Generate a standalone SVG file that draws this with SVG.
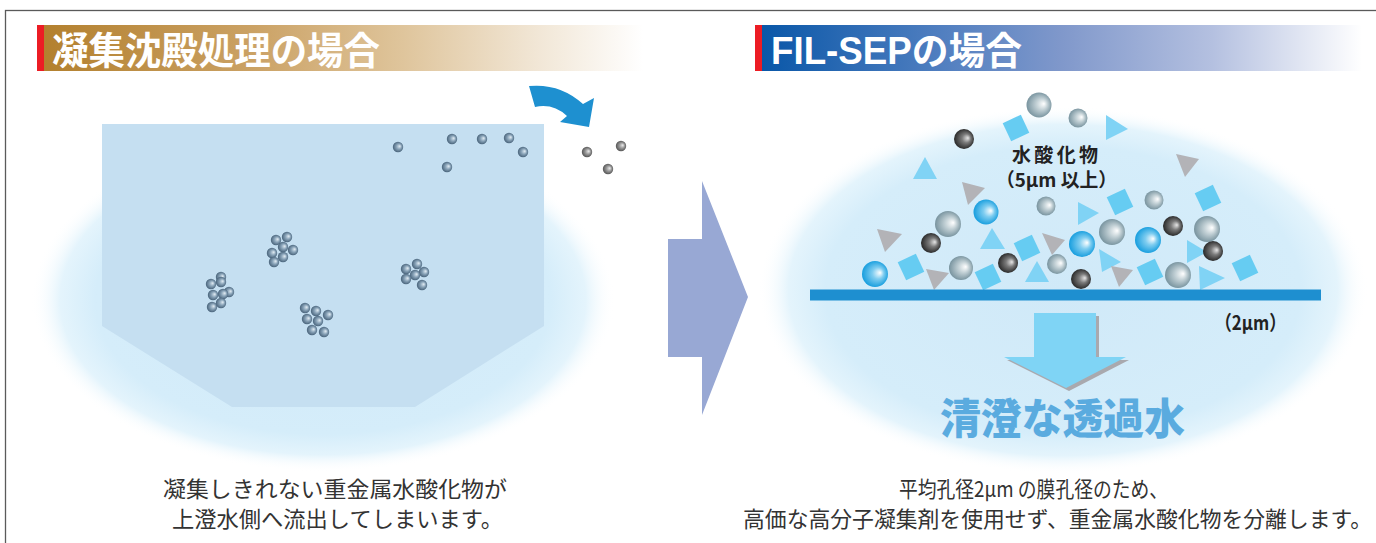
<svg xmlns="http://www.w3.org/2000/svg" width="1376" height="543" viewBox="0 0 1376 543">
  <defs>
    <style>
      .hdr { font-family: "Noto Sans CJK JP", "Liberation Sans", sans-serif; font-weight: 700; fill: #ffffff; }
      .hdr-latin { font-family: "Liberation Sans", "Noto Sans CJK JP", sans-serif; font-weight: 700; fill: #ffffff; }
      .body { font-family: "Noto Sans CJK JP", sans-serif; font-size: 22px; fill: #333333; }
      .lbl { font-family: "Noto Sans CJK JP", "Liberation Sans", sans-serif; font-weight: 700; fill: #222222; }
      .big { font-family: "Noto Sans CJK JP", sans-serif; font-weight: 900; font-size: 42px; fill: #5aabdf; }
      .sq { fill: #66ccf2; }
      .tri-b { fill: #80d3f5; }
      .tri-g { fill: #b3b3b7; }
    </style>
    <linearGradient id="gHdrL" gradientUnits="userSpaceOnUse" x1="44" y1="0" x2="643" y2="0">
      <stop offset="0" stop-color="#b3802e"/>
      <stop offset="0.35" stop-color="#cba265"/>
      <stop offset="0.6" stop-color="#dfc59c"/>
      <stop offset="0.82" stop-color="#f1e6d5"/>
      <stop offset="1" stop-color="#ffffff"/>
    </linearGradient>
    <linearGradient id="gHdrR" gradientUnits="userSpaceOnUse" x1="762" y1="0" x2="1362" y2="0">
      <stop offset="0" stop-color="#0957a8"/>
      <stop offset="0.3" stop-color="#517fc0"/>
      <stop offset="0.5" stop-color="#8098cb"/>
      <stop offset="0.75" stop-color="#b4c0e0"/>
      <stop offset="1" stop-color="#ffffff"/>
    </linearGradient>
    <radialGradient id="gGlow" cx="0.5" cy="0.5" r="0.5">
      <stop offset="0" stop-color="#d0e9f8"/>
      <stop offset="0.78" stop-color="#d5edfa"/>
      <stop offset="0.9" stop-color="#e4f4fc"/>
      <stop offset="1" stop-color="#ffffff" stop-opacity="0"/>
    </radialGradient>
    <radialGradient id="gSteel" cx="0.5" cy="0.5" r="0.55" fx="0.68" fy="0.42">
      <stop offset="0" stop-color="#e4eef5"/>
      <stop offset="0.45" stop-color="#8aa4b9"/>
      <stop offset="1" stop-color="#3f5a72"/>
    </radialGradient>
    <radialGradient id="gGrey" cx="0.5" cy="0.5" r="0.55" fx="0.68" fy="0.42">
      <stop offset="0" stop-color="#eeeeee"/>
      <stop offset="0.45" stop-color="#9a9a9a"/>
      <stop offset="1" stop-color="#4a4a4a"/>
    </radialGradient>
    <radialGradient id="gSilver" cx="0.5" cy="0.5" r="0.55" fx="0.7" fy="0.45">
      <stop offset="0" stop-color="#ffffff"/>
      <stop offset="0.4" stop-color="#c3d1d6"/>
      <stop offset="1" stop-color="#6f8c98"/>
    </radialGradient>
    <radialGradient id="gCyan" cx="0.5" cy="0.5" r="0.55" fx="0.7" fy="0.45">
      <stop offset="0" stop-color="#ffffff"/>
      <stop offset="0.4" stop-color="#7fcdf0"/>
      <stop offset="1" stop-color="#0a98dc"/>
    </radialGradient>
    <radialGradient id="gDark" cx="0.5" cy="0.5" r="0.55" fx="0.7" fy="0.45">
      <stop offset="0" stop-color="#e6e6e6"/>
      <stop offset="0.4" stop-color="#7a7a7a"/>
      <stop offset="1" stop-color="#1e1e1e"/>
    </radialGradient>
  </defs>

  <rect width="1376" height="543" fill="#ffffff"/>

  <!-- outer frame -->
  <rect id="frame" x="5.5" y="10.5" width="1390" height="560" fill="none" stroke="#5a5a5a" stroke-width="1.3"/>

  <!-- section headers -->
  <g id="header-left">
    <rect x="44" y="25" width="600" height="46" fill="url(#gHdrL)"/>
    <rect x="37" y="25" width="7" height="46" fill="#ec1c24"/>
    <text class="hdr" x="52" y="64" font-size="38" textLength="328" lengthAdjust="spacingAndGlyphs">凝集沈殿処理の場合</text>
  </g>
  <g id="header-right">
    <rect x="762" y="25" width="600" height="46" fill="url(#gHdrR)"/>
    <rect x="755" y="25" width="7" height="46" fill="#ec1c24"/>
    <text class="hdr-latin" x="771" y="64" font-size="38" textLength="251" lengthAdjust="spacingAndGlyphs">FIL-SEPの場合</text>
  </g>

  <!-- sedimentation tank -->
  <g id="tank">
    <ellipse cx="323" cy="300" rx="292" ry="172" fill="url(#gGlow)"/>
    <polygon points="102,124 544,124 544,326 415,407 232,407 102,326" fill="#c5dff1"/>
  </g>

  <!-- floc and fine particles in the tank -->
  <g id="floc" fill="url(#gSteel)">
    <circle cx="398" cy="147" r="5.2"/>
    <circle cx="452" cy="139" r="5.2"/>
    <circle cx="482" cy="139" r="5.2"/>
    <circle cx="509" cy="138" r="5.2"/>
    <circle cx="523" cy="152" r="5.2"/>
    <circle cx="447" cy="167" r="5.2"/>

    <circle cx="221" cy="277" r="5.2"/>
    <circle cx="211" cy="284" r="5.2"/>
    <circle cx="221" cy="282" r="5.2"/>
    <circle cx="229" cy="292" r="5.2"/>
    <circle cx="213" cy="295" r="5.2"/>
    <circle cx="223" cy="294" r="5.2"/>
    <circle cx="212" cy="307" r="5.2"/>
    <circle cx="221" cy="303" r="5.2"/>

    <circle cx="276" cy="240" r="5.2"/>
    <circle cx="287" cy="237" r="5.2"/>
    <circle cx="293" cy="250" r="5.2"/>
    <circle cx="283" cy="247" r="5.2"/>
    <circle cx="272" cy="253" r="5.2"/>
    <circle cx="283" cy="257" r="5.2"/>
    <circle cx="274" cy="262" r="5.2"/>

    <circle cx="305" cy="308" r="5.2"/>
    <circle cx="316" cy="311" r="5.2"/>
    <circle cx="328" cy="315" r="5.2"/>
    <circle cx="307" cy="319" r="5.2"/>
    <circle cx="318" cy="321" r="5.2"/>
    <circle cx="312" cy="330" r="5.2"/>
    <circle cx="324" cy="332" r="5.2"/>

    <circle cx="417" cy="264" r="5.2"/>
    <circle cx="406" cy="269" r="5.2"/>
    <circle cx="424" cy="272" r="5.2"/>
    <circle cx="415" cy="275" r="5.2"/>
    <circle cx="406" cy="279" r="5.2"/>
    <circle cx="422" cy="285" r="5.2"/>
  </g>

  <!-- overflow arrow and escaping particles -->
  <g id="overflow">
    <path d="M529,86 Q560,83 583,104 L594,98 L589,127 L560,122 L567,116 Q553,103 535,107 Z" fill="#1e90d0"/>
    <g fill="url(#gGrey)">
      <circle cx="587" cy="152" r="5.2"/>
      <circle cx="621" cy="146" r="5.2"/>
      <circle cx="608" cy="169" r="5.2"/>
    </g>
  </g>

  <!-- transition arrow -->
  <g id="arrow-mid">
    <polygon points="668,239 702,239 702,181 748,297 702,415 702,357 668,357" fill="#98a8d4"/>
  </g>

  <!-- membrane filtration -->
  <g id="membrane-glow">
    <ellipse cx="1063" cy="290" rx="305" ry="184" fill="url(#gGlow)"/>
  </g>

  <g id="solids">
    <g class="sq">
      <rect x="-10" y="-10" width="20" height="20" transform="translate(1016,128) rotate(-25)"/>
      <rect x="-10" y="-10" width="20" height="20" transform="translate(1120,202) rotate(-25)"/>
      <rect x="-10" y="-10" width="20" height="20" transform="translate(1208,198) rotate(-25)"/>
      <rect x="-10" y="-10" width="20" height="20" transform="translate(1027,248) rotate(-25)"/>
      <rect x="-10" y="-10" width="20" height="20" transform="translate(911,267) rotate(-25)"/>
      <rect x="-10" y="-10" width="20" height="20" transform="translate(988,277) rotate(-25)"/>
      <rect x="-10" y="-10" width="20" height="20" transform="translate(1150,272) rotate(-25)"/>
      <rect x="-10" y="-10" width="20" height="20" transform="translate(1245,268) rotate(-25)"/>
    </g>
    <g class="tri-b">
      <polygon points="913,179 937,179 925,157"/>
      <polygon points="1106,115 1128,129 1106,140"/>
      <polygon points="1078,202 1099,213 1078,225"/>
      <polygon points="980,249 1005,249 992,228"/>
      <polygon points="1025,282 1049,282 1037,261"/>
      <polygon points="1099,249 1121,262 1102,272"/>
      <polygon points="1187,240 1207,252 1187,263"/>
      <polygon points="1199,266 1225,278 1200,290"/>
    </g>
    <g class="tri-g">
      <polygon points="962,182 985,188 968,205"/>
      <polygon points="1176,154 1199,159 1185,177"/>
      <polygon points="877,229 902,234 885,252"/>
      <polygon points="1042,233 1065,240 1052,255"/>
      <polygon points="926,269 949,273 934,290"/>
      <polygon points="1111,266 1133,270 1119,287"/>
    </g>
    <g fill="url(#gSilver)">
      <circle cx="1039" cy="105" r="12.5"/>
      <circle cx="1078" cy="118" r="9.5"/>
      <circle cx="1154" cy="200" r="9.5"/>
      <circle cx="1046" cy="206" r="9.5"/>
      <circle cx="948" cy="224" r="13"/>
      <circle cx="1112" cy="232" r="13"/>
      <circle cx="1207" cy="229" r="13"/>
      <circle cx="961" cy="268" r="12"/>
      <circle cx="1057" cy="264" r="10"/>
      <circle cx="1178" cy="275" r="13"/>
    </g>
    <g fill="url(#gCyan)">
      <circle cx="986" cy="212" r="12.5"/>
      <circle cx="1082" cy="244" r="13"/>
      <circle cx="1148" cy="240" r="13"/>
      <circle cx="875" cy="274" r="13"/>
    </g>
    <g fill="url(#gDark)">
      <circle cx="964" cy="139" r="10"/>
      <circle cx="931" cy="243" r="10"/>
      <circle cx="1173" cy="226" r="10"/>
      <circle cx="1008" cy="263" r="10"/>
      <circle cx="1081" cy="279" r="10"/>
      <circle cx="1213" cy="251" r="10"/>
    </g>
  </g>

  <g id="solids-label">
    <text class="lbl" x="1012" y="162" font-size="19" textLength="86" lengthAdjust="spacing">水酸化物</text>
    <text class="lbl" x="996" y="187" font-size="19" textLength="121" lengthAdjust="spacingAndGlyphs">（5μm 以上）</text>
  </g>

  <g id="membrane">
    <rect x="810" y="289.5" width="511" height="11" fill="#1e8fd0"/>
    <text class="lbl" x="1215" y="330" font-size="20" textLength="71" lengthAdjust="spacingAndGlyphs">（2μm）</text>
  </g>

  <g id="arrow-down">
    <polygon points="1034,313 1096,313 1096,357 1126,357 1066,388 1004,357 1034,357" fill="#a9a9ae" transform="translate(3,3)"/>
    <polygon points="1034,313 1096,313 1096,357 1126,357 1066,388 1004,357 1034,357" fill="#7fd4f5"/>
  </g>

  <g id="permeate-label">
    <text class="big" x="940" y="434" textLength="245" lengthAdjust="spacingAndGlyphs">清澄な透過水</text>
  </g>

  <!-- captions -->
  <g id="caption-left">
    <text class="body" x="163" y="497" textLength="344" lengthAdjust="spacingAndGlyphs">凝集しきれない重金属水酸化物が</text>
    <text class="body" x="172" y="527" textLength="331" lengthAdjust="spacingAndGlyphs">上澄水側へ流出してしまいます。</text>
  </g>
  <g id="caption-right">
    <text class="body" x="899" y="497" textLength="269" lengthAdjust="spacingAndGlyphs">平均孔径2μm の膜孔径のため、</text>
    <text class="body" x="743" y="527" textLength="629" lengthAdjust="spacingAndGlyphs">高価な高分子凝集剤を使用せず、重金属水酸化物を分離します。</text>
  </g>
</svg>
